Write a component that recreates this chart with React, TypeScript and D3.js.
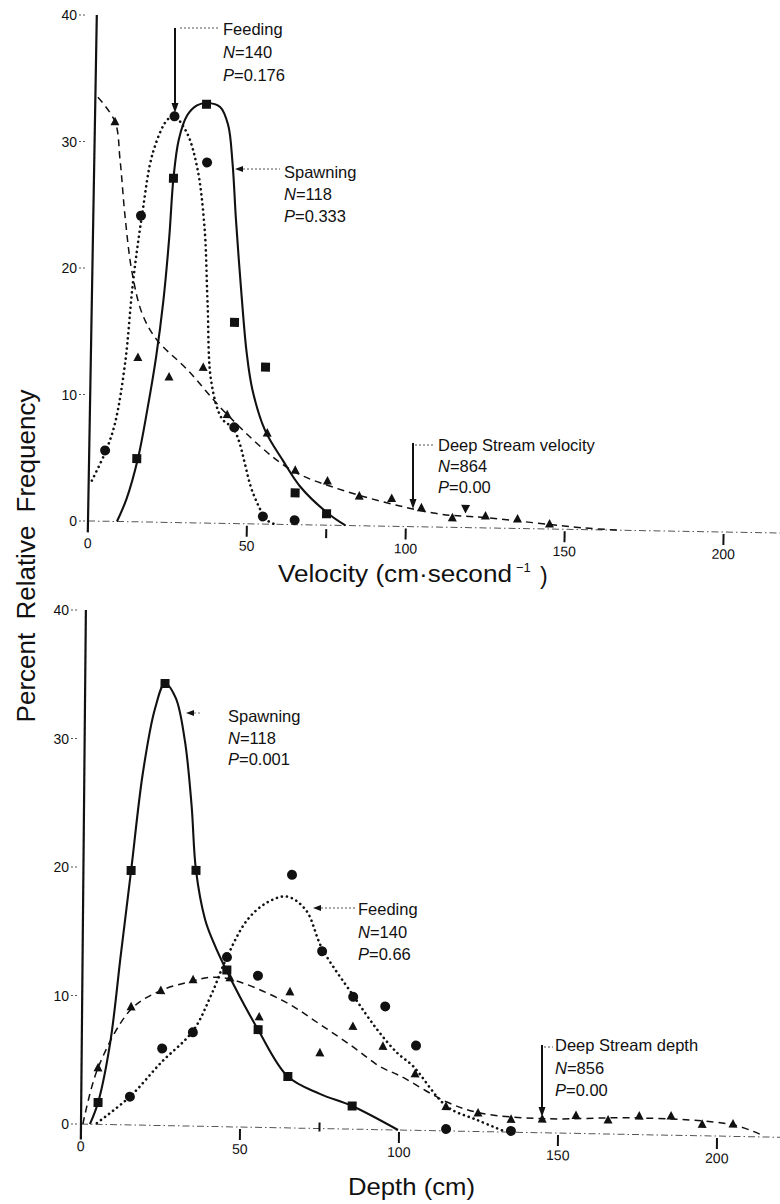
import React from 'react';
import * as d3 from 'd3';

type Pt = [number, number];

// ---------- Top panel: Velocity (cm·s⁻¹) ----------
const velSpawnPts: Pt[] = [[15, 5.0], [25, 27.2], [35, 33.1], [45, 15.9], [55, 12.4], [65, 2.5], [75, 0.9]];
const velFeedPts: Pt[] = [[5, 5.6], [15, 24.2], [25, 32.1], [35.5, 28.5], [45.5, 7.6], [55, 0.6], [65, 0.35]];
const velDeepPts: Pt[] = [[6.3, 31.6], [14.8, 13.0], [24.7, 11.5], [35.4, 12.3], [43.2, 8.6], [55.9, 7.2], [64.9, 4.3], [75.1, 3.5], [85.2, 2.35], [95.4, 2.2], [104.8, 1.5], [114.6, 0.75], [125, 0.95], [135.1, 0.75], [145.2, 0.4]];
const velDeepDownPts: Pt[] = [[118.7, 1.5]];

const velSpawnCurve: Pt[] = [[9.1, 0], [12, 1.8], [15.4, 5.05], [18, 8.8], [20.5, 13], [22.5, 17.5], [24, 22.5], [25, 27.2], [26.5, 30.3], [29, 32.2], [32, 33], [35.2, 33.2], [39.3, 32.9], [41.9, 31.5], [43.5, 28.5], [44.9, 24], [46.9, 18.5], [49, 13.5], [51, 10.6], [55.2, 7.4], [61.1, 5.0], [66.6, 3.0], [75.6, 0.9], [81, 0]];
const velFeedCurve: Pt[] = [[1.0, 3.2], [5.3, 5.6], [8.0, 7.8], [10.8, 12.5], [12.8, 18.8], [15.3, 24.2], [18.4, 29.2], [22.7, 31.8], [24.9, 32.1], [29, 30.8], [32.4, 28.1], [35, 23.5], [36.4, 17.5], [38, 11.2], [41.5, 8.3], [45.5, 7.4], [51.8, 2.4], [56.4, 0.3], [58.9, 0]];
const velDeepCurve: Pt[] = [[0.8, 33.5], [6.3, 31.6], [8.1, 28.6], [10, 24.1], [12.5, 19.7], [16, 16.4], [20.7, 14.4], [30.4, 12.1], [43.2, 8.6], [62.4, 4.5], [77, 3.0], [108.6, 1.1], [125.7, 0.8], [156, 0.13], [168, 0]];

// ---------- Bottom panel: Depth (cm) ----------
const depSpawnPts: Pt[] = [[5.3, 1.7], [15, 19.8], [25.1, 34.4], [35.4, 19.9], [45.4, 12.2], [55.4, 7.6], [64.9, 4.0], [85.2, 1.8]];
const depFeedPts: Pt[] = [[15.3, 2.2], [25.3, 6.0], [34.9, 7.3], [45.4, 13.2], [55.2, 11.8], [65.6, 19.7], [75.3, 13.8], [85.2, 10.3], [95.3, 9.6], [105.1, 6.6], [114.8, 0.15], [135.2, 0.1]];
const depDeepPts: Pt[] = [[5.2, 4.4], [15.4, 9.2], [24.7, 10.5], [34.8, 11.4], [46.4, 11.6], [55.7, 8.6], [65.3, 10.6], [74.9, 5.9], [85.2, 8.0], [94.7, 6.5], [104.9, 4.4], [114.7, 1.9], [124.8, 1.45], [135.2, 1.0], [145, 1.07], [155.6, 1.4], [165.7, 1.1], [175.5, 1.45], [185.5, 1.5], [195.3, 0.9], [205, 0.96]];

const depSpawnCurve: Pt[] = [[2.8, 0], [5.3, 1.7], [8.9, 6.3], [12, 13.2], [15, 19.8], [18.4, 27.4], [22, 32.4], [25.1, 34.4], [28.5, 33.3], [31.5, 30], [33.8, 25], [35.4, 19.9], [38.4, 16.1], [41, 14.4], [45.4, 12.1], [55.4, 7.6], [64.9, 4.0], [75, 2.7], [85.2, 1.8], [99.7, 0]];
const depFeedCurve: Pt[] = [[5, 0.1], [15.3, 2.2], [25, 4.9], [34.9, 7.4], [40.5, 10.2], [45.4, 13.2], [51.6, 16.1], [57.8, 17.5], [64.1, 18.0], [70, 17.0], [75.3, 14.0], [85.2, 10.4], [92.8, 7.8], [99.2, 6.0], [104.2, 5.0], [115, 1.9], [124.5, 0.9], [132.7, 0.1]];
const depDeepCurve: Pt[] = [[0.6, 0], [5.2, 4.4], [15.4, 9.0], [24.7, 10.5], [34.8, 11.3], [40.1, 11.6], [46.4, 11.5], [63.1, 9.9], [74.9, 8.1], [85.3, 6.4], [93.9, 4.9], [100.3, 4.2], [115, 2.25], [125.4, 1.45], [145, 1.1], [175.5, 1.3], [205, 0.9], [214.5, 0.1]];

// ---------- Ticks & labels ----------
const yTickValues = [0, 10, 20, 30, 40];
const xTickLabels = [0, 50, 100, 150, 200];
const xTickMarks = [50, 100, 150, 200];
const xMinorMarks = [75];

const velLabels = [
  { name: 'Feeding', n: '140', p: '0.176' },
  { name: 'Spawning', n: '118', p: '0.333' },
  { name: 'Deep Stream velocity', n: '864', p: '0.00' },
];
const depLabels = [
  { name: 'Spawning', n: '118', p: '0.001' },
  { name: 'Feeding', n: '140', p: '0.66' },
  { name: 'Deep Stream depth', n: '856', p: '0.00' },
];
const yTitle = 'Percent Relative Frequency';
const velTitle = 'Velocity (cm·second';
const depTitle = 'Depth (cm)';

const FONT = "'Liberation Sans', Arial, Helvetica, sans-serif";

type Sc = d3.ScaleLinear<number, number>;

function Markers({ pts, xs, ys, kind, size }: { pts: Pt[]; xs: Sc; ys: Sc; kind: string; size: number }) {
  return (
    <g fill="#111">
      {pts.map((d, i) => {
        const x = xs(d[0]);
        const y = ys(d[1]);
        if (kind === 'square') return <rect key={i} x={x - size / 2} y={y - size / 2} width={size} height={size} />;
        if (kind === 'circle') return <circle key={i} cx={x} cy={y} r={size / 2 + 0.5} />;
        if (kind === 'tridown')
          return <path key={i} d={`M${x},${y + size * 0.55} L${x + size / 2},${y - size * 0.4} L${x - size / 2},${y - size * 0.4} Z`} />;
        return <path key={i} d={`M${x},${y - size * 0.55} L${x + size / 2},${y + size * 0.4} L${x - size / 2},${y + size * 0.4} Z`} />;
      })}
    </g>
  );
}

function Label({ x, y, lab, gap }: { x: number; y: number; lab: { name: string; n: string; p: string }; gap: number }) {
  return (
    <g fontFamily={FONT} fontSize={16.5} fill="#111">
      <text x={x} y={y}>{lab.name}</text>
      <text x={x} y={y + gap}>
        <tspan fontStyle="italic">N</tspan>={lab.n}
      </text>
      <text x={x} y={y + gap * 2}>
        <tspan fontStyle="italic">P</tspan>={lab.p}
      </text>
    </g>
  );
}

function arrowLeft(x: number, y: number) {
  return `M${x},${y} L${x + 8},${y - 3} L${x + 8},${y + 3} Z`;
}
function arrowDown(x: number, y: number) {
  return `M${x},${y} L${x - 3.5},${y - 10} L${x + 3.5},${y - 10} Z`;
}

function Panel({
  xs, ys, ox, oy, b, c, spawnPts, feedPts, deepPts, downPts, spawnCurve, feedCurve, deepCurve, labelRight, tickDash, yAxisExt, xAxisEnd, minorUp,
}: any) {
  const line = (data: Pt[]) =>
    d3.line<Pt>().x((d) => xs(d[0])).y((d) => ys(d[1])).curve(d3.curveCatmullRom.alpha(0.5))(data) || '';
  const y0 = ys(0);
  return (
    <g>
      {/* y tick labels & dashes (unsheared) */}
      <g fontFamily={FONT} fontSize={14} fill="#111" textAnchor="end">
        {yTickValues.map((v) => (
          <g key={v}>
            <text x={labelRight} y={ys(v) + 5}>{v}</text>
            <line x1={labelRight + 2} x2={labelRight + tickDash} y1={ys(v)} y2={ys(v)} stroke="#555" strokeWidth={1} strokeDasharray="2 2" />
          </g>
        ))}
      </g>
      <g transform={`translate(${ox},${oy}) matrix(1,${b},${c},1,0,0) translate(${-ox},${-oy})`}>
        {/* x axis line */}
        <line x1={xs(0)} x2={xs(xAxisEnd)} y1={y0} y2={y0} stroke="#555" strokeWidth={1} strokeDasharray="7 3 1.5 3" />
        {/* y axis line */}
        <line x1={xs(0)} x2={xs(0)} y1={ys(40)} y2={ys(yAxisExt)} stroke="#111" strokeWidth={2.2} />
        {/* x tick marks */}
        {xTickMarks.map((v) => (
          <line key={v} x1={xs(v)} x2={xs(v)} y1={y0 + 2} y2={y0 + 13} stroke="#111" strokeWidth={2} />
        ))}
        {xMinorMarks.map((v) => (
          <line key={v} x1={xs(v)} x2={xs(v)} y1={y0 + minorUp} y2={y0 + minorUp + 9} stroke="#111" strokeWidth={2} />
        ))}
        {/* x tick labels */}
        <g fontFamily={FONT} fontSize={14} fill="#111" textAnchor="middle">
          {xTickLabels.map((v) => (
            <text key={v} x={xs(v)} y={y0 + 27}>{v}</text>
          ))}
        </g>
        {/* curves */}
        <path d={line(deepCurve)} fill="none" stroke="#111" strokeWidth={1.5} strokeDasharray="7 5" />
        <path d={line(feedCurve)} fill="none" stroke="#111" strokeWidth={2.6} strokeDasharray="0.1 5" strokeLinecap="round" />
        <path d={line(spawnCurve)} fill="none" stroke="#111" strokeWidth={2.1} />
        {/* points */}
        <Markers pts={deepPts} xs={xs} ys={ys} kind="tri" size={9} />
        {downPts && <Markers pts={downPts} xs={xs} ys={ys} kind="tridown" size={9} />}
        <Markers pts={feedPts} xs={xs} ys={ys} kind="circle" size={9} />
        <Markers pts={spawnPts} xs={xs} ys={ys} kind="square" size={9} />
      </g>
    </g>
  );
}

export default function App() {
  const xT = d3.scaleLinear().domain([0, 200]).range([88, 723.6]);
  const yT = d3.scaleLinear().domain([0, 40]).range([521, 15]);
  const xB = d3.scaleLinear().domain([0, 200]).range([81, 717]);
  const yB = d3.scaleLinear().domain([0, 40]).range([1124, 610]);

  return (
    <svg width={780} height={1204} viewBox="0 0 780 1204" style={{ position: 'absolute', left: 0, top: 0, background: '#fff' }}>
      <rect x={0} y={0} width={780} height={1204} fill="#fff" />

      <Panel xs={xT} ys={yT} ox={88} oy={521} b={0.0173} c={-0.0174}
        spawnPts={velSpawnPts} feedPts={velFeedPts} deepPts={velDeepPts} downPts={velDeepDownPts}
        spawnCurve={velSpawnCurve} feedCurve={velFeedCurve} deepCurve={velDeepCurve}
        labelRight={77} tickDash={10} yAxisExt={-0.9} xAxisEnd={218} minorUp={4} />

      <Panel xs={xB} ys={yB} ox={81} oy={1124} b={0.019} c={-0.0095}
        spawnPts={depSpawnPts} feedPts={depFeedPts} deepPts={depDeepPts} downPts={null}
        spawnCurve={depSpawnCurve} feedCurve={depFeedCurve} deepCurve={depDeepCurve}
        labelRight={69} tickDash={10} yAxisExt={-1.2} xAxisEnd={220} minorUp={-6} />

      {/* ---- Top annotations ---- */}
      <g stroke="#111">
        <line x1={175} x2={175} y1={28} y2={104} strokeWidth={2} />
        <line x1={180} x2={218} y1={28} y2={28} strokeWidth={1} strokeDasharray="2 2" stroke="#555" />
        <line x1={243} x2={280} y1={169} y2={169} strokeWidth={1} strokeDasharray="2 2" stroke="#555" />
        <line x1={413} x2={413} y1={443} y2={500} strokeWidth={2} />
        <line x1={415} x2={435} y1={445} y2={445} strokeWidth={1} strokeDasharray="2 2" stroke="#555" />
      </g>
      <g fill="#111">
        <path d={arrowDown(175, 113)} />
        <path d={arrowLeft(235, 169)} />
        <path d={arrowDown(413, 509)} />
      </g>
      <Label x={223} y={35} lab={velLabels[0]} gap={23} />
      <Label x={284} y={178} lab={velLabels[1]} gap={22} />
      <Label x={438} y={451} lab={velLabels[2]} gap={21} />

      {/* ---- Bottom annotations ---- */}
      <g stroke="#111">
        <line x1={194} x2={200} y1={713} y2={713} strokeWidth={1} strokeDasharray="2 2" stroke="#777" />
        <line x1={321} x2={355} y1={908} y2={908} strokeWidth={1} strokeDasharray="2 2" stroke="#555" />
        <line x1={542} x2={542} y1={1045} y2={1108} strokeWidth={2} />
        <line x1={544} x2={553} y1={1047} y2={1047} strokeWidth={1} strokeDasharray="2 2" stroke="#555" />
      </g>
      <g fill="#111">
        <path d={arrowLeft(186, 713)} />
        <path d={arrowLeft(313, 908)} />
        <path d={arrowDown(542, 1117)} />
      </g>
      <Label x={228} y={722} lab={depLabels[0]} gap={21.5} />
      <Label x={358} y={915} lab={depLabels[1]} gap={22.5} />
      <Label x={555} y={1051} lab={depLabels[2]} gap={22.5} />

      {/* ---- Axis titles ---- */}
      <g fontFamily={FONT} fill="#111">
        <text x={278} y={582} fontSize={23} textLength={234} lengthAdjust="spacingAndGlyphs">{velTitle}</text>
        <text x={516} y={572} fontSize={13}>−1</text>
        <text x={540} y={584} fontSize={23}>)</text>
        <text x={348} y={1195} fontSize={24} textLength={127} lengthAdjust="spacingAndGlyphs">{depTitle}</text>
        <text transform="translate(35,556) rotate(-90)" textAnchor="middle" fontSize={26} wordSpacing={6}>{yTitle}</text>
      </g>
    </svg>
  );
}
